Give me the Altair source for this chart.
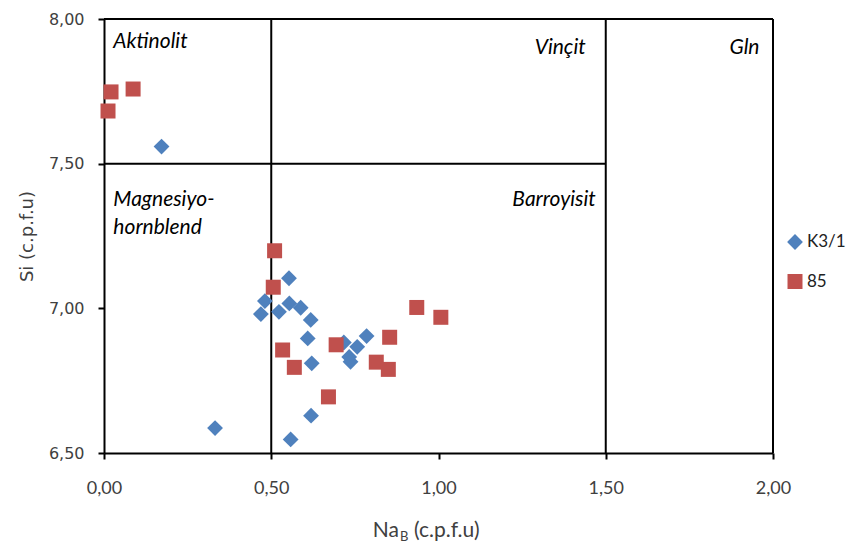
import altair as alt
import pandas as pd

# Series K3/1 (blue diamonds)
k3_x = [0.172, 0.332, 0.553, 0.481, 0.469, 0.523, 0.554, 0.588, 0.618, 0.609,
        0.621, 0.717, 0.757, 0.785, 0.733, 0.737, 0.619, 0.558]
k3_y = [7.559, 6.586, 7.104, 7.025, 6.980, 6.988, 7.017, 7.002, 6.960, 6.896,
        6.810, 6.882, 6.867, 6.904, 6.832, 6.815, 6.629, 6.547]
# Series 85 (red squares)
s85_x = [0.021, 0.087, 0.012, 0.510, 0.506, 0.534, 0.569, 0.694, 0.671, 0.814,
         0.850, 0.854, 0.935, 1.007]
s85_y = [7.748, 7.758, 7.682, 7.199, 7.073, 6.856, 6.796, 6.874, 6.694, 6.814,
         6.789, 6.900, 7.003, 6.969]

series_names = ["K3/1", "85"]
series_colors = ["#4F81BD", "#C0504D"]
series_shapes = ["diamond", "square"]
series_sizes = [250, 225]

# Field boundary segments
seg_x = [0.5, 1.5, 0.0, 0.0, 2.0]
seg_x2 = [0.5, 1.5, 1.5, 2.0, 2.0]
seg_y = [6.5, 6.5, 7.5, 8.0, 6.5]
seg_y2 = [8.0, 8.0, 7.5, 8.0, 8.0]

# Field labels
lab_text = ["Aktinolit", "Magnesiyo-", "hornblend"]
lab_x = [0.028, 0.028, 0.028]
lab_y = [7.92, 7.374, 7.278]
rlab_text = ["Vinçit", "Barroyisit"]
rlab_x = [1.44, 1.47]
rlab_y = [7.90, 7.374]
glab_text = ["Gln"]
glab_x = [1.87]
glab_y = [7.90]

x_ticks = [0.0, 0.5, 1.0, 1.5, 2.0]
y_ticks = [6.5, 7.0, 7.5, 8.0]

W, H = 669, 434

pts = pd.DataFrame(
    {"x": k3_x + s85_x,
     "y": k3_y + s85_y,
     "series": ["K3/1"] * len(k3_x) + ["85"] * len(s85_x),
     "order": list(range(len(k3_x) + len(s85_x)))}
)
segs = pd.DataFrame({"x": seg_x, "x2": seg_x2, "y": seg_y, "y2": seg_y2})
labs = pd.DataFrame({"t": lab_text, "x": lab_x, "y": lab_y})
rlabs = pd.DataFrame({"t": rlab_text, "x": rlab_x, "y": rlab_y})
glabs = pd.DataFrame({"t": glab_text, "x": glab_x, "y": glab_y})

xscale = alt.Scale(domain=[0, 2], nice=False, zero=False)
yscale = alt.Scale(domain=[6.5, 8.0], nice=False, zero=False)

xaxis = alt.Axis(values=x_ticks, format=".2f",
                 labelExpr="replace(datum.label, '.', ',')",
                 title=None, grid=False, domainColor="black", domainWidth=2,
                 tickColor="black", tickWidth=2, tickSize=6, labelFlush=False,
                 labelFont="Lato", labelFontSize=18, labelColor="#404040",
                 labelPadding=20)
yaxis = alt.Axis(values=y_ticks, format=".2f",
                 labelExpr="replace(datum.label, '.', ',')",
                 title="Si (c.p.f.u)", grid=False, domainColor="black", domainWidth=2,
                 tickColor="black", tickWidth=2, tickSize=6, labelFlush=False,
                 labelFont="DejaVu Sans", labelFontSize=16, labelColor="#404040",
                 labelPadding=14,
                 titleFont="DejaVu Sans", titleFontSize=18, titleFontWeight="normal",
                 titleColor="#404040", titlePadding=12)

lines = alt.Chart(segs).mark_rule(color="black", strokeWidth=2).encode(
    x=alt.X("x:Q", scale=xscale, axis=xaxis),
    x2="x2:Q",
    y=alt.Y("y:Q", scale=yscale, axis=yaxis),
    y2="y2:Q",
)

points = alt.Chart(pts).mark_point(filled=True, opacity=1, strokeWidth=0).encode(
    x=alt.X("x:Q", scale=xscale),
    y=alt.Y("y:Q", scale=yscale),
    color=alt.Color("series:N",
                    scale=alt.Scale(domain=series_names, range=series_colors),
                    legend=alt.Legend(title=None, orient="none", legendX=682, legendY=214,
                                      labelFont="Lato", labelFontSize=17,
                                      labelColor="#222222", symbolSize=150,
                                      rowPadding=22, labelOffset=3)),
    shape=alt.Shape("series:N",
                    scale=alt.Scale(domain=series_names, range=series_shapes)),
    size=alt.Size("series:N",
                  scale=alt.Scale(domain=series_names, range=series_sizes),
                  legend=None),
    order="order:Q",
)

text_common = dict(font="Lato", fontSize=21, fontStyle="italic", color="black",
                   baseline="middle")
ltext = alt.Chart(labs).mark_text(align="left", **text_common).encode(
    x=alt.X("x:Q", scale=xscale), y=alt.Y("y:Q", scale=yscale), text="t:N")
rtext = alt.Chart(rlabs).mark_text(align="right", **text_common).encode(
    x=alt.X("x:Q", scale=xscale), y=alt.Y("y:Q", scale=yscale), text="t:N")
gtext = alt.Chart(glabs).mark_text(align="left", **text_common).encode(
    x=alt.X("x:Q", scale=xscale), y=alt.Y("y:Q", scale=yscale), text="t:N")

# x-axis title with subscript B
xt_na = alt.Chart(pd.DataFrame({"t": ["Na"]})).mark_text(
    align="right", baseline="alphabetic", font="Lato", fontSize=21, color="#404040"
).encode(x=alt.value(295), y=alt.value(H + 84), text="t:N")
xt_b = alt.Chart(pd.DataFrame({"t": ["B"]})).mark_text(
    align="left", baseline="alphabetic", font="Lato", fontSize=13, color="#404040"
).encode(x=alt.value(296), y=alt.value(H + 88), text="t:N")
xt_rest = alt.Chart(pd.DataFrame({"t": ["(c.p.f.u)"]})).mark_text(
    align="left", baseline="alphabetic", font="Lato", fontSize=21, color="#404040"
).encode(x=alt.value(310), y=alt.value(H + 84), text="t:N")

chart = alt.layer(lines, points, ltext, rtext, gtext, xt_na, xt_b, xt_rest).properties(
    width=W, height=H,
    padding={"left": 104, "top": 19, "right": 848 - 104 - W, "bottom": 547 - 19 - H},
    autosize=alt.AutoSizeParams(type="none"),
).configure_view(stroke=None).configure(background="white")

chart.save("out.html", embed_options={"renderer": "svg", "actions": False})
